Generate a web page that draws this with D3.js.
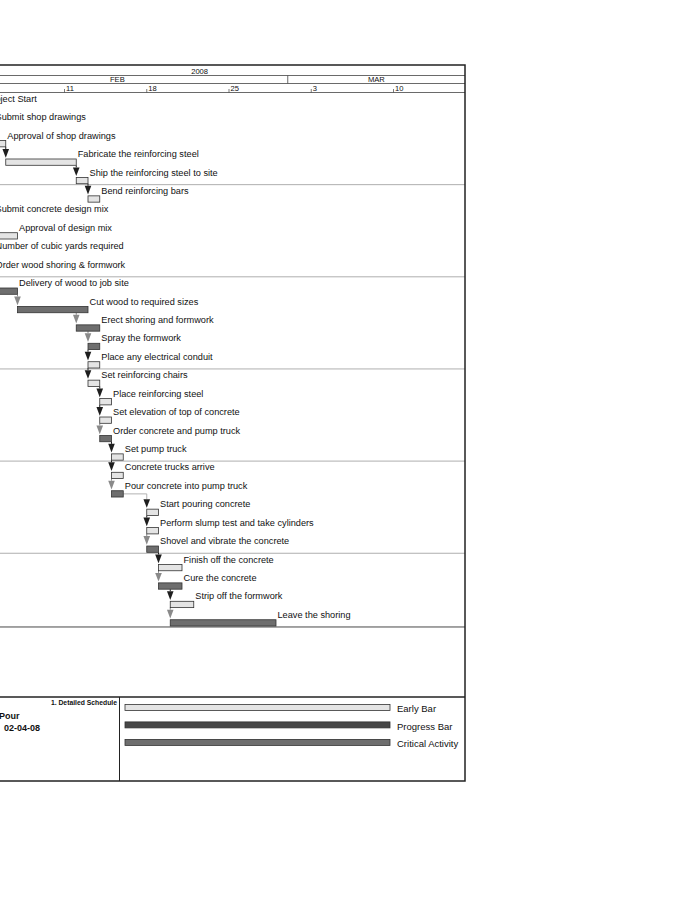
<!DOCTYPE html>
<html>
<head>
<meta charset="utf-8">
<script src="https://cdn.jsdelivr.net/npm/d3@7"></script>
<style>
  body { margin: 0; background: #fff; }
  svg { display: block; font-family: "Liberation Sans", Arial, Helvetica, sans-serif; }
</style>
</head>
<body>
<div id="chart"></div>
<script>
// activities, read top to bottom
const taskNames = [
  "Project Start",
  "Submit shop drawings",
  "Approval of shop drawings",
  "Fabricate the reinforcing steel",
  "Ship the reinforcing steel to site",
  "Bend reinforcing bars",
  "Submit concrete design mix",
  "Approval of design mix",
  "Number of cubic yards required",
  "Order wood shoring & formwork",
  "Delivery of wood to job site",
  "Cut wood to required sizes",
  "Erect shoring and formwork",
  "Spray the formwork",
  "Place any electrical conduit",
  "Set reinforcing chairs",
  "Place reinforcing steel",
  "Set elevation of top of concrete",
  "Order concrete and pump truck",
  "Set pump truck",
  "Concrete trucks arrive",
  "Pour concrete into pump truck",
  "Start pouring concrete",
  "Perform slump test and take cylinders",
  "Shovel and vibrate the concrete",
  "Finish off the concrete",
  "Cure the concrete",
  "Strip off the formwork",
  "Leave the shoring"
];
const taskStarts = [
  "2008-02-04", "2008-02-04", "2008-02-05", "2008-02-06", "2008-02-12",
  "2008-02-13", "2008-02-04", "2008-02-05", "2008-02-04", "2008-02-04",
  "2008-02-05", "2008-02-07", "2008-02-12", "2008-02-13", "2008-02-13",
  "2008-02-13", "2008-02-14", "2008-02-14", "2008-02-14", "2008-02-15",
  "2008-02-15", "2008-02-15", "2008-02-18", "2008-02-18", "2008-02-18",
  "2008-02-19", "2008-02-19", "2008-02-20", "2008-02-20"
];
const taskFinishes = [
  "2008-02-04", "2008-02-05", "2008-02-06", "2008-02-12", "2008-02-13",
  "2008-02-14", "2008-02-05", "2008-02-07", "2008-02-05", "2008-02-05",
  "2008-02-07", "2008-02-13", "2008-02-14", "2008-02-14", "2008-02-14",
  "2008-02-14", "2008-02-15", "2008-02-15", "2008-02-15", "2008-02-16",
  "2008-02-16", "2008-02-16", "2008-02-19", "2008-02-19", "2008-02-19",
  "2008-02-21", "2008-02-21", "2008-02-22", "2008-02-29"
];
const taskCritical = [
  0, 0, 0, 0, 0,
  0, 0, 0, 0, 0,
  1, 1, 1, 1, 0,
  0, 0, 0, 1, 0,
  0, 1, 0, 0, 1,
  0, 1, 0, 1
];
// predecessor row of each activity (-1 = none drawn)
const taskPreds = [
  -1, -1, -1, 2, 3,
  4, -1, -1, -1, -1,
  -1, 10, 11, 12, 13,
  14, 15, 16, 17, 18,
  19, 20, 21, 22, 23,
  24, 25, 26, 27
];

const yearLabels = ["2008"];
const monthNames = ["JAN", "FEB", "MAR"];
const monthStarts = ["2008-01-01", "2008-02-01", "2008-03-01"];
const chartStart = "2008-01-31";

const legendLabels = ["Early Bar", "Progress Bar", "Critical Activity"];
const legendFills = ["#e4e4e4", "#474747", "#6e6e6e"];

// title block lines, split in the part hidden left of the page and the part shown
const titlePrefixes = ["Concrete", "Data Date"];
const titleValues = ["Pour", "02-04-08"];
const layoutName = "1. Detailed Schedule";

const layout = {
  width: 700, height: 900,
  right: 465, top: 65,
  yearBottom: 75.5, monthBottom: 83.5, headBottom: 92.5,
  rowH: 18.43, blockTop: 697, bottom: 781, divider: 119.5
};

const parse = d3.utcParse("%Y-%m-%d");
const x = d3.scaleUtc()
  .domain([parse("2008-02-11"), parse("2008-03-10")])
  .range([64.5, 393.5]);
const chartLeft = x(parse(chartStart)) - 1;
const chartEnd = x.invert(layout.right);

const y = d3.scaleBand()
  .domain(d3.range(taskNames.length))
  .range([layout.headBottom, layout.headBottom + layout.rowH * taskNames.length]);

const barOff = 11.2, barH = 6.3;
const lightFill = "#e4e4e4", critFill = "#6e6e6e", barStroke = "#333";

const svg = d3.select("#chart").append("svg")
  .attr("width", layout.width)
  .attr("height", layout.height);
svg.append("rect").attr("width", layout.width).attr("height", layout.height).attr("fill", "#fff");

const g = svg.append("g");

// ---- header
function hLine(y0, color, w) {
  g.append("line")
    .attr("x1", chartLeft).attr("x2", layout.right)
    .attr("y1", y0).attr("y2", y0)
    .attr("stroke", color).attr("stroke-width", w);
}
hLine(layout.yearBottom, "#444", 0.8);
hLine(layout.monthBottom, "#444", 0.8);
hLine(layout.headBottom, "#444", 0.8);

g.append("text")
  .text(yearLabels[0])
  .attr("x", (chartLeft + layout.right) / 2)
  .attr("y", layout.yearBottom - 1.3)
  .attr("text-anchor", "middle")
  .attr("font-size", 7.6)
  .attr("fill", "#111");

for (let i = 0; i < monthNames.length; i++) {
  const m0 = Math.max(chartLeft, x(parse(monthStarts[i])));
  const m1 = i < monthNames.length - 1 ? x(parse(monthStarts[i + 1])) : layout.right;
  if (i > 0) {
    g.append("line")
      .attr("x1", m0).attr("x2", m0)
      .attr("y1", layout.yearBottom).attr("y2", layout.monthBottom)
      .attr("stroke", "#444").attr("stroke-width", 0.8);
  }
  if (m1 - m0 < 25) continue;
  g.append("text")
    .text(monthNames[i])
    .attr("x", (m0 + m1) / 2)
    .attr("y", layout.monthBottom - 1.3)
    .attr("text-anchor", "middle")
    .attr("font-size", 7.6)
    .attr("fill", "#111");
}

// weekly ticks, only the ones inside the page
const mondays = d3.utcMonday.range(parse(chartStart), chartEnd).filter(d => x(d) > 0);
const dayTicks = g.selectAll(".dayTick").data(mondays).enter().append("g")
  .attr("transform", d => "translate(" + x(d) + ",0)");
dayTicks.append("line")
  .attr("y1", layout.headBottom - 3.5).attr("y2", layout.headBottom)
  .attr("stroke", "#444").attr("stroke-width", 0.7);
dayTicks.append("text")
  .text(d => d.getUTCDate())
  .attr("x", 1.6)
  .attr("y", layout.headBottom - 1.2)
  .attr("font-size", 7.6)
  .attr("fill", "#111");

// ---- row separators every 5 activities
for (let i = 5; i < taskNames.length; i += 5) {
  hLine(y(i), "#9a9a9a", 0.8);
}
hLine(y(taskNames.length - 1) + y.bandwidth(), "#333", 0.9);

// ---- relationship arrows
for (let i = 0; i < taskNames.length; i++) {
  const p = taskPreds[i];
  if (p < 0) continue;
  const sx = x(parse(taskStarts[i]));
  const pEnd = x(parse(taskFinishes[p]));
  const triTop = y(i) + barOff - 10;
  const tip = y(i) + barOff - 1.3;
  const col = taskCritical[i] ? "#8a8a8a" : "#1e1e1e";

  if (pEnd < sx - 1) {
    // finish-to-start with a gap: go right then down
    const my = y(p) + barOff + barH / 2;
    g.append("path")
      .attr("d", `M${pEnd},${my} H${sx} V${triTop}`)
      .attr("fill", "none")
      .attr("stroke", "#aaa")
      .attr("stroke-width", 0.9);
  } else {
    g.append("line")
      .attr("x1", sx).attr("x2", sx)
      .attr("y1", y(p) + barOff + barH).attr("y2", triTop)
      .attr("stroke", col).attr("stroke-width", 1);
  }
  g.append("path")
    .attr("d", `M${sx - 3.3},${triTop} L${sx + 3.3},${triTop} L${sx},${tip} Z`)
    .attr("fill", col);
}

// ---- bars and labels
for (let i = 0; i < taskNames.length; i++) {
  const s = x(parse(taskStarts[i]));
  const f = x(parse(taskFinishes[i]));
  let labelX = f + 1.5;
  if (f > s) {
    g.append("rect")
      .attr("x", s)
      .attr("y", y(i) + barOff)
      .attr("width", f - s)
      .attr("height", barH)
      .attr("fill", taskCritical[i] ? critFill : lightFill)
      .attr("stroke", barStroke)
      .attr("stroke-width", 0.8);
  } else {
    // milestone diamond
    const cy = y(i) + barOff + barH / 2;
    g.append("path")
      .attr("d", `M${s},${cy - 3.5} L${s + 3.5},${cy} L${s},${cy + 3.5} L${s - 3.5},${cy} Z`)
      .attr("fill", "#222");
    labelX = f + 4;
  }
  g.append("text")
    .text(taskNames[i])
    .attr("x", labelX)
    .attr("y", y(i) + 9.3)
    .attr("font-size", 9.2)
    .attr("fill", "#111");
}

// ---- title block
hLine(layout.blockTop, "#222", 1.5);
g.append("line")
  .attr("x1", layout.divider).attr("x2", layout.divider)
  .attr("y1", layout.blockTop).attr("y2", layout.bottom)
  .attr("stroke", "#222").attr("stroke-width", 1);

g.append("text")
  .text(layoutName)
  .attr("x", layout.divider - 2.5)
  .attr("y", layout.blockTop + 8)
  .attr("text-anchor", "end")
  .attr("font-size", 6.8)
  .attr("font-weight", "bold")
  .attr("fill", "#111");

const titleX = [-1, 4];
const titleY = [718.5, 730.5];
titleValues.forEach((v, i) => {
  // prefix sits fully left of the page edge
  g.append("text")
    .text(titlePrefixes[i])
    .attr("x", Math.min(titleX[i] - 3, -2))
    .attr("y", titleY[i])
    .attr("text-anchor", "end")
    .attr("font-size", 9)
    .attr("font-weight", "bold")
    .attr("fill", "#111");
  g.append("text")
    .text(v)
    .attr("x", titleX[i])
    .attr("y", titleY[i])
    .attr("font-size", 9)
    .attr("font-weight", "bold")
    .attr("fill", "#111");
});

// legend
const legY = d3.scalePoint().domain(legendLabels).range([704.4, 739.4]);
const legX = d3.scaleLinear().domain([0, 1]).range([125, 390]);
legendLabels.forEach((lab, i) => {
  g.append("rect")
    .attr("x", legX(0))
    .attr("y", legY(lab))
    .attr("width", legX(1) - legX(0))
    .attr("height", 6)
    .attr("fill", legendFills[i])
    .attr("stroke", barStroke)
    .attr("stroke-width", 0.8);
  g.append("text")
    .text(lab)
    .attr("x", 397)
    .attr("y", legY(lab) + 7.8)
    .attr("font-size", 9.5)
    .attr("fill", "#111");
});

// outer frame
g.append("rect")
  .attr("x", chartLeft)
  .attr("y", layout.top)
  .attr("width", layout.right - chartLeft)
  .attr("height", layout.bottom - layout.top)
  .attr("fill", "none")
  .attr("stroke", "#222")
  .attr("stroke-width", 1.5);
</script>
</body>
</html>
